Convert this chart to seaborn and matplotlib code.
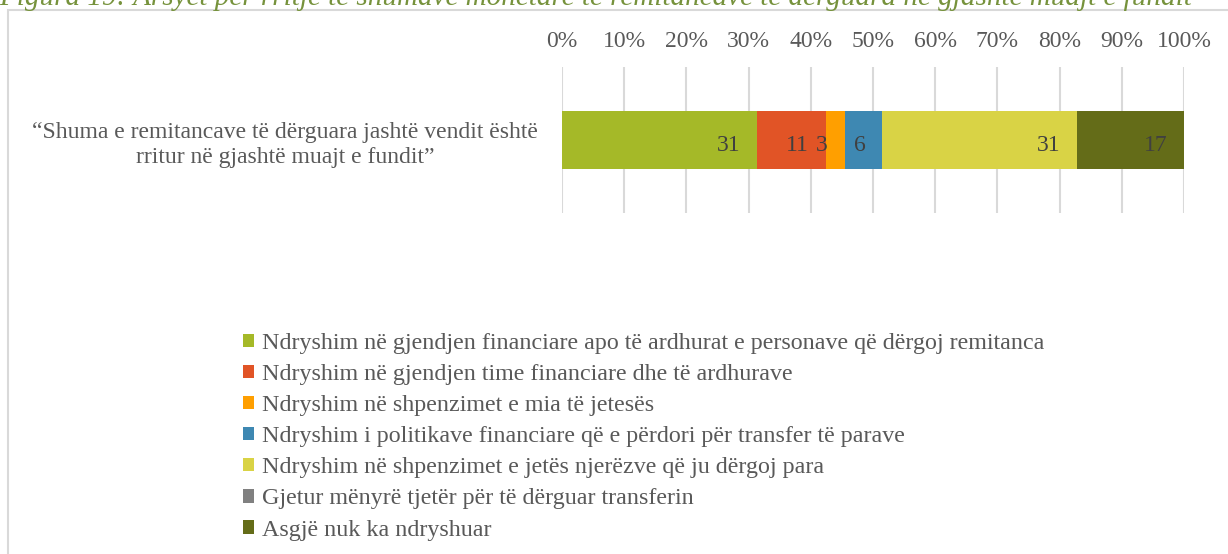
import numpy as np
import seaborn as sns
import matplotlib.pyplot as plt
from matplotlib.patches import Patch, Rectangle

# Data
title = ("Figura 19: Arsyet për rritje të shumave monetare të remitancave "
         "të dërguara në gjashtë muajt e fundit")
category = ("“Shuma e remitancave të dërguara jashtë vendit është\n"
            "rritur në gjashtë muajt e fundit”")
reasons = [
    "Ndryshim në gjendjen financiare apo të ardhurat e personave që dërgoj remitanca",
    "Ndryshim në gjendjen time financiare dhe të ardhurave",
    "Ndryshim në shpenzimet e mia të jetesës",
    "Ndryshim i politikave financiare që e përdori për transfer të parave",
    "Ndryshim në shpenzimet e jetës njerëzve që ju dërgoj para",
    "Gjetur mënyrë tjetër për të dërguar transferin",
    "Asgjë nuk ka ndryshuar",
]
values = [31, 11, 3, 6, 31, 0, 17]
colors = ["#A5B928", "#E15426", "#FF9F00", "#3E88B2", "#D9D345", "#808080", "#646C18"]
tick_values = np.arange(0, 101, 10)

shares = np.array(values) / sum(values)
cum = np.cumsum(shares)

sns.set_theme(style="white")
plt.rcParams['font.family'] = ['Liberation Serif', 'DejaVu Serif']
FS = 17

W, H = 1228, 554
fig = plt.figure(figsize=(W / 100, H / 100), dpi=100)
ax = fig.add_axes([562 / W, 1 - 213 / H, (1184 - 562) / W, (213 - 67) / H])

# stacked bar: draw cumulative widths from the longest to the shortest
for i in reversed(range(len(reasons))):
    sns.barplot(x=[cum[i]], y=[category], orient="h", color=colors[i],
                saturation=1, width=0.4, linewidth=0, ax=ax)

for i, v in enumerate(values):
    if v > 0:
        ax.annotate(str(v), xy=(cum[i], 0), xytext=(-12, -2), textcoords="offset points",
                    ha="right", va="center_baseline", color="#404040", fontsize=FS)

ax.set_xlim(0, 1)
ax.set_ylim(0.5, -0.5)
ax.xaxis.tick_top()
ax.set_xticks(tick_values / 100)
ax.set_xticklabels([f"{t}%" for t in tick_values], color="#595959", fontsize=FS)
ax.tick_params(axis="x", length=0, pad=11)
ax.set_yticks([])
ax.set_xlabel("")
ax.set_ylabel("")
ax.grid(axis="x", color="#d9d9d9", lw=1.5)
ax.set_axisbelow(True)
for s in ax.spines.values():
    s.set_visible(False)

ax.text(285 / W, 1 - 145 / H, category, transform=fig.transFigure, ha="center", va="center",
        multialignment="center", color="#595959", fontsize=FS, linespacing=1.3)

handles = [Patch(facecolor=c, edgecolor="none") for c in colors]
fig.legend(handles, reasons, loc="upper left", bbox_to_anchor=(243 / W, 1 - 333 / H),
           frameon=False, fontsize=17.3, labelcolor="#595959", handlelength=0.47,
           handleheight=0.47, handletextpad=0.3, labelspacing=0.42, borderpad=0,
           borderaxespad=0)

fig.text(1192 / W, 1 - 5 / H, title, ha="right", va="baseline", style="italic",
         color="#76923C", fontsize=21)
fig.patches.append(Rectangle((8 / W, -0.1), 1.2, 1 - 10 / H + 0.1, transform=fig.transFigure,
                             fill=False, edgecolor="#d9d9d9", lw=1.5))

fig.savefig("out.png", dpi=100)
